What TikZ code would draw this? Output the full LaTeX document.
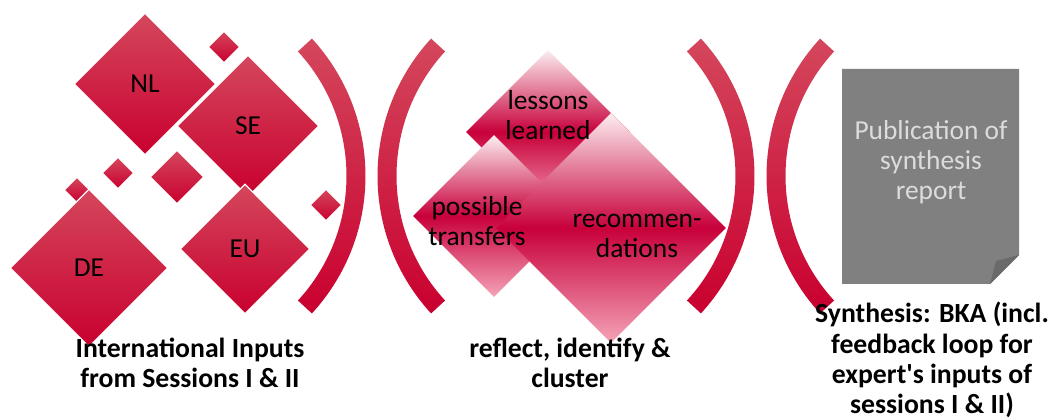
\documentclass[tikz,border=0pt]{standalone}
\usepackage{fontspec}
\setmainfont{Carlito}
\usetikzlibrary{shapes.geometric, calc, positioning}
\definecolor{cred}{HTML}{C9002F}
\definecolor{credtop}{HTML}{D4475C}
\definecolor{credmid}{HTML}{C8003A}
\definecolor{cpink}{HTML}{F4A3B7}
\definecolor{cblush}{HTML}{FCEEF1}
\definecolor{cgrey}{HTML}{808080}
\definecolor{cfold}{HTML}{6A6A6A}
\definecolor{cpaper}{HTML}{DCDCDC}
\tikzset{
  every picture/.style={font=\fontsize{19.5}{21.5}\selectfont},
  tile/.style={diamond, aspect=1, inner sep=0pt, minimum width=#1, minimum height=#1,
    draw=white, line width=0.8pt, top color=credtop, bottom color=cred},
  petal/.style={diamond, aspect=1, inner sep=0pt, minimum width=#1, minimum height=#1,
    top color=cblush, bottom color=cpink, middle color=credmid},
  bracket/.style={top color=credtop, bottom color=cred},
  caption/.style={font=\fontsize{19.7}{21.5}\selectfont\bfseries, align=center},
  lbl/.style={align=center},
}
% one thick round bracket: centre x, centre y, direction of its bulge
\newcommand\parenarc[3]{%
  \shade[bracket] ($(#1,#2)+(#3-42.6:203)$) arc[start angle=#3-42.6, end angle=#3+42.6, radius=203]
    -- ($(#1,#2)+(#3+42.6:184)$) arc[start angle=#3+42.6, end angle=#3-42.6, radius=184] -- cycle;}

\begin{document}
\begin{tikzpicture}[x=0.025cm, y=-0.025cm]
  \useasboundingbox (0,0) rectangle (1051,418);

  % country inputs
  \node[tile=0.8cm] (dot1) at (224,47) {};
  \node[tile=0.8cm] (dot2) at (118,173) {};
  \node[tile=1.35cm] (dot3) at (177,177) {};
  \node[tile=0.65cm] (dot4) at (77,190) {};
  \node[tile=0.8cm] (dot5) at (326,205) {};
  \node[tile=3.55cm] (nl) at (145,84) {NL};
  \node[tile=3.55cm] (se) at (248,126) {SE};
  \node[tile=3.25cm] (eu) at (245,249) {EU};
  \node[tile=3.95cm] (de) at (89,268) {DE};

  \parenarc{162.5}{176}{0}
  \parenarc{580.5}{176}{180}

  % reflection cluster
  \node[petal=4.1cm] (lessons) at (548,132) {};
  \node[petal=4.05cm] (transfers) at (494,216) {};
  \node[petal=5.75cm] (recs) at (611,228) {};
  \node[lbl] (lessonstext) at (548,115) {lessons\\learned};
  \node[lbl] (transferstext) at (477,221) {possible\\transfers};
  \node[lbl] (recstext) at (637,236) {recommen-\\dations};

  \parenarc{551.5}{176}{0}
  \parenarc{969.5}{176}{180}

  % report page with folded corner
  \fill[cgrey] (842,69) -- (1019,69) -- (1019,255) -- (990,284) -- (842,284) -- cycle;
  \fill[cfold] (990,284) -- (996,261) -- (1019,255) -- cycle;
  \node[lbl, text=cpaper] (report) at (931,162) {Publication of\\synthesis\\report};

  \node[caption] (cap1) at (190,363) {International Inputs\\from Sessions I \& II};
  \node[caption] (cap2) at (570,363) {reflect, identify \&\\cluster};
  \node[caption] (cap3) at (932,360) {Synthesis: BKA (incl.\\feedback loop for\\expert\textquotesingle s inputs of\\sessions I \& II)};
\end{tikzpicture}
\end{document}
